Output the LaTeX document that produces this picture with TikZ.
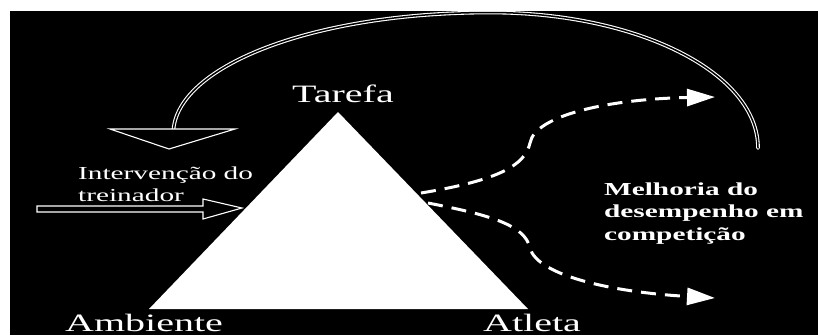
\documentclass[tikz,border=0pt]{standalone}
\usepackage{fontspec}
\setmainfont{Liberation Serif}
\usepackage{graphicx}
\usetikzlibrary{positioning, arrows.meta}

\newcommand{\wide}[1]{\scalebox{1.6}[1]{#1}}

\begin{document}
\begin{tikzpicture}[
    x=1pt, y=-1pt,
    bigtext/.style={inner sep=0pt, text=white, font=\fontsize{25}{29}\selectfont},
    smalltext/.style={inner sep=0pt, align=left, text=white, font=\fontsize{18.3}{22.7}\selectfont},
    dasharrow/.style={draw=white, line width=3pt, dash pattern=on 15pt off 9pt,
        -{Triangle[length=28pt, width=17pt]}},
    feedback/.style={draw=white, double=black, line width=1.1pt, double distance=1.5pt, line cap=round},
    blockarrow/.style={draw=white, fill=black, line width=1.1pt, line join=miter}
]
\useasboundingbox (0,0) rectangle (818,335);
\fill[white] (0,0) rectangle (818,335);
\fill[black] (10,11) rectangle (818,335);

% triangle
\coordinate (apex) at (338,112);
\coordinate (baseL) at (149,309);
\coordinate (baseR) at (528,309);
\fill[white] (apex) -- (baseR) -- (baseL) -- cycle;

\node[bigtext, anchor=base west] (tarefa) at (292,102) {\wide{Tarefa}};
\node[bigtext, anchor=base west] (ambiente) at (65,331) {\wide{Ambiente}};
\node[bigtext, anchor=base west] (atleta) at (483,331) {\wide{Atleta}};

\node[smalltext, anchor=base west] (coach) at (78,201.7) {\wide{Intervenção do}\\\wide{treinador}};
\node[smalltext, anchor=base west, font=\fontsize{18.3}{22.7}\selectfont\bfseries] (result) at (604,240.4)
    {\wide{Melhoria do}\\\wide{desempenho em}\\\wide{competição}};

% coach input
\coordinate (inL) at (37,209);
\coordinate (inR) at (242,208);
\draw[blockarrow] (inL) ++(0,-3) -- (203,206) -- (203,199) -- (inR) -- (203,219)
    -- (203,212) -- (37,212) -- cycle;

% performance paths
\coordinate (upS) at (421,193);
\coordinate (upE) at (715,97);
\coordinate (loS) at (428,203);
\coordinate (loE) at (715,298);
\draw[dasharrow] (upS) .. controls (500,180) and (525,165) .. (530,143)
    .. controls (535,115) and (610,99) .. (upE);
\draw[dasharrow] (loS) .. controls (490,215) and (525,225) .. (530,248)
    .. controls (537,275) and (610,292) .. (loE);

% feedback loop
\coordinate (fbS) at (758,148);
\coordinate (fbE) at (173.5,129);
\draw[feedback] (fbS) .. controls (758,72.8) and (638,12.5) .. (490,12.5)
    .. controls (315,12.5) and (180,64.7) .. (fbE);
\draw[blockarrow] (110,129) -- (235,129) -- (169,149) -- cycle;
\end{tikzpicture}
\end{document}
